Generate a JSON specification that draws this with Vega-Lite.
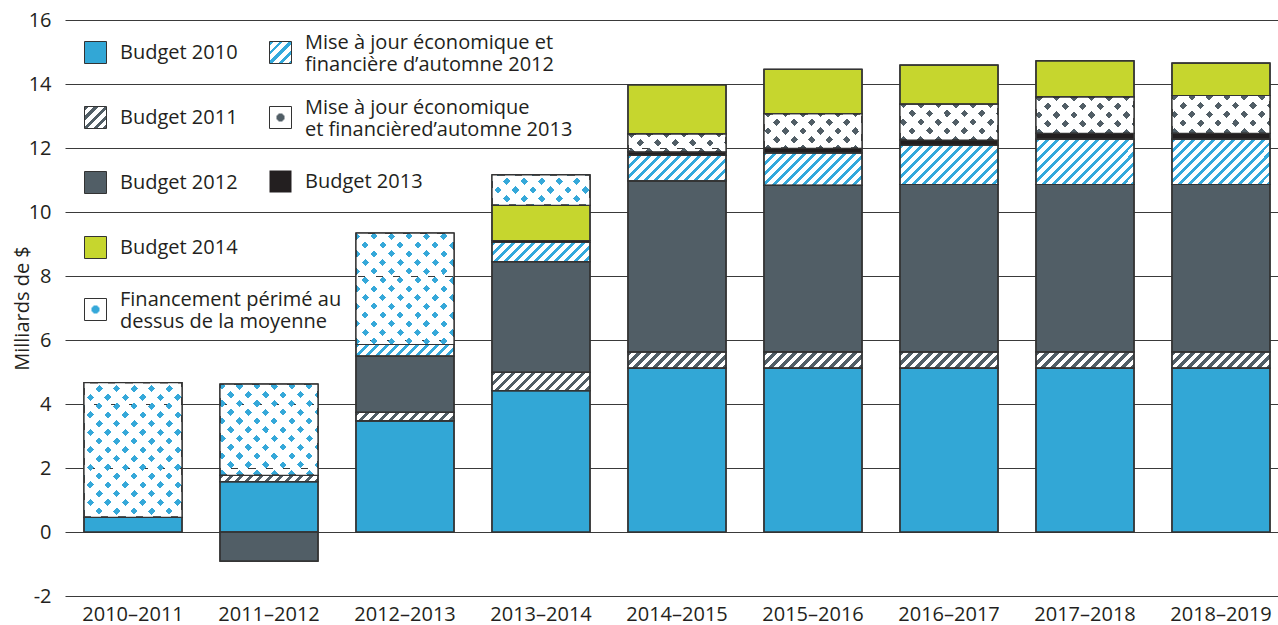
{
"$schema": "https://vega.github.io/schema/vega-lite/v6.json",
"width": 1224,
"height": 576,
"autosize": "none",
"padding": {"left": 65, "top": 20, "right": 0, "bottom": 29},
"background": "white",
"params": [
{"name": "hatchDark", "value": [
{"offset":0,"color":"#515e66"},{"offset":0.0375,"color":"#515e66"},{"offset":0.0375,"color":"#ffffff"},{"offset":0.0833,"color":"#ffffff"},
{"offset":0.0833,"color":"#515e66"},{"offset":0.1208,"color":"#515e66"},{"offset":0.1208,"color":"#ffffff"},{"offset":0.1667,"color":"#ffffff"},
{"offset":0.1667,"color":"#515e66"},{"offset":0.2042,"color":"#515e66"},{"offset":0.2042,"color":"#ffffff"},{"offset":0.25,"color":"#ffffff"},
{"offset":0.25,"color":"#515e66"},{"offset":0.2875,"color":"#515e66"},{"offset":0.2875,"color":"#ffffff"},{"offset":0.3333,"color":"#ffffff"},
{"offset":0.3333,"color":"#515e66"},{"offset":0.3708,"color":"#515e66"},{"offset":0.3708,"color":"#ffffff"},{"offset":0.4167,"color":"#ffffff"},
{"offset":0.4167,"color":"#515e66"},{"offset":0.4542,"color":"#515e66"},{"offset":0.4542,"color":"#ffffff"},{"offset":0.5,"color":"#ffffff"},
{"offset":0.5,"color":"#515e66"},{"offset":0.5375,"color":"#515e66"},{"offset":0.5375,"color":"#ffffff"},{"offset":0.5833,"color":"#ffffff"},
{"offset":0.5833,"color":"#515e66"},{"offset":0.6208,"color":"#515e66"},{"offset":0.6208,"color":"#ffffff"},{"offset":0.6667,"color":"#ffffff"},
{"offset":0.6667,"color":"#515e66"},{"offset":0.7042,"color":"#515e66"},{"offset":0.7042,"color":"#ffffff"},{"offset":0.75,"color":"#ffffff"},
{"offset":0.75,"color":"#515e66"},{"offset":0.7875,"color":"#515e66"},{"offset":0.7875,"color":"#ffffff"},{"offset":0.8333,"color":"#ffffff"},
{"offset":0.8333,"color":"#515e66"},{"offset":0.8708,"color":"#515e66"},{"offset":0.8708,"color":"#ffffff"},{"offset":0.9167,"color":"#ffffff"},
{"offset":0.9167,"color":"#515e66"},{"offset":0.9542,"color":"#515e66"},{"offset":0.9542,"color":"#ffffff"},{"offset":1,"color":"#ffffff"}
]},
{"name": "hatchBlue", "value": [
{"offset":0,"color":"#33a9dc"},{"offset":0.0267,"color":"#33a9dc"},{"offset":0.0267,"color":"#ffffff"},{"offset":0.0667,"color":"#ffffff"},
{"offset":0.0667,"color":"#33a9dc"},{"offset":0.0933,"color":"#33a9dc"},{"offset":0.0933,"color":"#ffffff"},{"offset":0.1333,"color":"#ffffff"},
{"offset":0.1333,"color":"#33a9dc"},{"offset":0.16,"color":"#33a9dc"},{"offset":0.16,"color":"#ffffff"},{"offset":0.2,"color":"#ffffff"},
{"offset":0.2,"color":"#33a9dc"},{"offset":0.2267,"color":"#33a9dc"},{"offset":0.2267,"color":"#ffffff"},{"offset":0.2667,"color":"#ffffff"},
{"offset":0.2667,"color":"#33a9dc"},{"offset":0.2933,"color":"#33a9dc"},{"offset":0.2933,"color":"#ffffff"},{"offset":0.3333,"color":"#ffffff"},
{"offset":0.3333,"color":"#33a9dc"},{"offset":0.36,"color":"#33a9dc"},{"offset":0.36,"color":"#ffffff"},{"offset":0.4,"color":"#ffffff"},
{"offset":0.4,"color":"#33a9dc"},{"offset":0.4267,"color":"#33a9dc"},{"offset":0.4267,"color":"#ffffff"},{"offset":0.4667,"color":"#ffffff"},
{"offset":0.4667,"color":"#33a9dc"},{"offset":0.4933,"color":"#33a9dc"},{"offset":0.4933,"color":"#ffffff"},{"offset":0.5333,"color":"#ffffff"},
{"offset":0.5333,"color":"#33a9dc"},{"offset":0.56,"color":"#33a9dc"},{"offset":0.56,"color":"#ffffff"},{"offset":0.6,"color":"#ffffff"},
{"offset":0.6,"color":"#33a9dc"},{"offset":0.6267,"color":"#33a9dc"},{"offset":0.6267,"color":"#ffffff"},{"offset":0.6667,"color":"#ffffff"},
{"offset":0.6667,"color":"#33a9dc"},{"offset":0.6933,"color":"#33a9dc"},{"offset":0.6933,"color":"#ffffff"},{"offset":0.7333,"color":"#ffffff"},
{"offset":0.7333,"color":"#33a9dc"},{"offset":0.76,"color":"#33a9dc"},{"offset":0.76,"color":"#ffffff"},{"offset":0.8,"color":"#ffffff"},
{"offset":0.8,"color":"#33a9dc"},{"offset":0.8267,"color":"#33a9dc"},{"offset":0.8267,"color":"#ffffff"},{"offset":0.8667,"color":"#ffffff"},
{"offset":0.8667,"color":"#33a9dc"},{"offset":0.8933,"color":"#33a9dc"},{"offset":0.8933,"color":"#ffffff"},{"offset":0.9333,"color":"#ffffff"},
{"offset":0.9333,"color":"#33a9dc"},{"offset":0.96,"color":"#33a9dc"},{"offset":0.96,"color":"#ffffff"},{"offset":1,"color":"#ffffff"}
]},
{"name": "dotsBlue", "value": [
{"offset":0,"color":"#35a8d9"},{"offset":0.03,"color":"#35a8d9"},{"offset":0.03,"color":"rgba(255,255,255,0)"},{"offset":0.0714,"color":"rgba(255,255,255,0)"},
{"offset":0.0714,"color":"#35a8d9"},{"offset":0.1014,"color":"#35a8d9"},{"offset":0.1014,"color":"rgba(255,255,255,0)"},{"offset":0.1429,"color":"rgba(255,255,255,0)"},
{"offset":0.1429,"color":"#35a8d9"},{"offset":0.1729,"color":"#35a8d9"},{"offset":0.1729,"color":"rgba(255,255,255,0)"},{"offset":0.2143,"color":"rgba(255,255,255,0)"},
{"offset":0.2143,"color":"#35a8d9"},{"offset":0.2443,"color":"#35a8d9"},{"offset":0.2443,"color":"rgba(255,255,255,0)"},{"offset":0.2857,"color":"rgba(255,255,255,0)"},
{"offset":0.2857,"color":"#35a8d9"},{"offset":0.3157,"color":"#35a8d9"},{"offset":0.3157,"color":"rgba(255,255,255,0)"},{"offset":0.3571,"color":"rgba(255,255,255,0)"},
{"offset":0.3571,"color":"#35a8d9"},{"offset":0.3871,"color":"#35a8d9"},{"offset":0.3871,"color":"rgba(255,255,255,0)"},{"offset":0.4286,"color":"rgba(255,255,255,0)"},
{"offset":0.4286,"color":"#35a8d9"},{"offset":0.4586,"color":"#35a8d9"},{"offset":0.4586,"color":"rgba(255,255,255,0)"},{"offset":0.5,"color":"rgba(255,255,255,0)"},
{"offset":0.5,"color":"#35a8d9"},{"offset":0.53,"color":"#35a8d9"},{"offset":0.53,"color":"rgba(255,255,255,0)"},{"offset":0.5714,"color":"rgba(255,255,255,0)"},
{"offset":0.5714,"color":"#35a8d9"},{"offset":0.6014,"color":"#35a8d9"},{"offset":0.6014,"color":"rgba(255,255,255,0)"},{"offset":0.6429,"color":"rgba(255,255,255,0)"},
{"offset":0.6429,"color":"#35a8d9"},{"offset":0.6729,"color":"#35a8d9"},{"offset":0.6729,"color":"rgba(255,255,255,0)"},{"offset":0.7143,"color":"rgba(255,255,255,0)"},
{"offset":0.7143,"color":"#35a8d9"},{"offset":0.7443,"color":"#35a8d9"},{"offset":0.7443,"color":"rgba(255,255,255,0)"},{"offset":0.7857,"color":"rgba(255,255,255,0)"},
{"offset":0.7857,"color":"#35a8d9"},{"offset":0.8157,"color":"#35a8d9"},{"offset":0.8157,"color":"rgba(255,255,255,0)"},{"offset":0.8571,"color":"rgba(255,255,255,0)"},
{"offset":0.8571,"color":"#35a8d9"},{"offset":0.8871,"color":"#35a8d9"},{"offset":0.8871,"color":"rgba(255,255,255,0)"},{"offset":0.9286,"color":"rgba(255,255,255,0)"},
{"offset":0.9286,"color":"#35a8d9"},{"offset":0.9586,"color":"#35a8d9"},{"offset":0.9586,"color":"rgba(255,255,255,0)"},{"offset":1,"color":"rgba(255,255,255,0)"}
]},
{"name": "dotsGrey", "value": [
{"offset":0,"color":"#515e66"},{"offset":0.03,"color":"#515e66"},{"offset":0.03,"color":"rgba(255,255,255,0)"},{"offset":0.0714,"color":"rgba(255,255,255,0)"},
{"offset":0.0714,"color":"#515e66"},{"offset":0.1014,"color":"#515e66"},{"offset":0.1014,"color":"rgba(255,255,255,0)"},{"offset":0.1429,"color":"rgba(255,255,255,0)"},
{"offset":0.1429,"color":"#515e66"},{"offset":0.1729,"color":"#515e66"},{"offset":0.1729,"color":"rgba(255,255,255,0)"},{"offset":0.2143,"color":"rgba(255,255,255,0)"},
{"offset":0.2143,"color":"#515e66"},{"offset":0.2443,"color":"#515e66"},{"offset":0.2443,"color":"rgba(255,255,255,0)"},{"offset":0.2857,"color":"rgba(255,255,255,0)"},
{"offset":0.2857,"color":"#515e66"},{"offset":0.3157,"color":"#515e66"},{"offset":0.3157,"color":"rgba(255,255,255,0)"},{"offset":0.3571,"color":"rgba(255,255,255,0)"},
{"offset":0.3571,"color":"#515e66"},{"offset":0.3871,"color":"#515e66"},{"offset":0.3871,"color":"rgba(255,255,255,0)"},{"offset":0.4286,"color":"rgba(255,255,255,0)"},
{"offset":0.4286,"color":"#515e66"},{"offset":0.4586,"color":"#515e66"},{"offset":0.4586,"color":"rgba(255,255,255,0)"},{"offset":0.5,"color":"rgba(255,255,255,0)"},
{"offset":0.5,"color":"#515e66"},{"offset":0.53,"color":"#515e66"},{"offset":0.53,"color":"rgba(255,255,255,0)"},{"offset":0.5714,"color":"rgba(255,255,255,0)"},
{"offset":0.5714,"color":"#515e66"},{"offset":0.6014,"color":"#515e66"},{"offset":0.6014,"color":"rgba(255,255,255,0)"},{"offset":0.6429,"color":"rgba(255,255,255,0)"},
{"offset":0.6429,"color":"#515e66"},{"offset":0.6729,"color":"#515e66"},{"offset":0.6729,"color":"rgba(255,255,255,0)"},{"offset":0.7143,"color":"rgba(255,255,255,0)"},
{"offset":0.7143,"color":"#515e66"},{"offset":0.7443,"color":"#515e66"},{"offset":0.7443,"color":"rgba(255,255,255,0)"},{"offset":0.7857,"color":"rgba(255,255,255,0)"},
{"offset":0.7857,"color":"#515e66"},{"offset":0.8157,"color":"#515e66"},{"offset":0.8157,"color":"rgba(255,255,255,0)"},{"offset":0.8571,"color":"rgba(255,255,255,0)"},
{"offset":0.8571,"color":"#515e66"},{"offset":0.8871,"color":"#515e66"},{"offset":0.8871,"color":"rgba(255,255,255,0)"},{"offset":0.9286,"color":"rgba(255,255,255,0)"},
{"offset":0.9286,"color":"#515e66"},{"offset":0.9586,"color":"#515e66"},{"offset":0.9586,"color":"rgba(255,255,255,0)"},{"offset":1,"color":"rgba(255,255,255,0)"}
]},
{"name": "maskStops", "value": [
{"offset":0,"color":"rgba(255,255,255,0)"},{"offset":0.03,"color":"rgba(255,255,255,0)"},{"offset":0.03,"color":"#ffffff"},{"offset":0.0714,"color":"#ffffff"},
{"offset":0.0714,"color":"rgba(255,255,255,0)"},{"offset":0.1014,"color":"rgba(255,255,255,0)"},{"offset":0.1014,"color":"#ffffff"},{"offset":0.1429,"color":"#ffffff"},
{"offset":0.1429,"color":"rgba(255,255,255,0)"},{"offset":0.1729,"color":"rgba(255,255,255,0)"},{"offset":0.1729,"color":"#ffffff"},{"offset":0.2143,"color":"#ffffff"},
{"offset":0.2143,"color":"rgba(255,255,255,0)"},{"offset":0.2443,"color":"rgba(255,255,255,0)"},{"offset":0.2443,"color":"#ffffff"},{"offset":0.2857,"color":"#ffffff"},
{"offset":0.2857,"color":"rgba(255,255,255,0)"},{"offset":0.3157,"color":"rgba(255,255,255,0)"},{"offset":0.3157,"color":"#ffffff"},{"offset":0.3571,"color":"#ffffff"},
{"offset":0.3571,"color":"rgba(255,255,255,0)"},{"offset":0.3871,"color":"rgba(255,255,255,0)"},{"offset":0.3871,"color":"#ffffff"},{"offset":0.4286,"color":"#ffffff"},
{"offset":0.4286,"color":"rgba(255,255,255,0)"},{"offset":0.4586,"color":"rgba(255,255,255,0)"},{"offset":0.4586,"color":"#ffffff"},{"offset":0.5,"color":"#ffffff"},
{"offset":0.5,"color":"rgba(255,255,255,0)"},{"offset":0.53,"color":"rgba(255,255,255,0)"},{"offset":0.53,"color":"#ffffff"},{"offset":0.5714,"color":"#ffffff"},
{"offset":0.5714,"color":"rgba(255,255,255,0)"},{"offset":0.6014,"color":"rgba(255,255,255,0)"},{"offset":0.6014,"color":"#ffffff"},{"offset":0.6429,"color":"#ffffff"},
{"offset":0.6429,"color":"rgba(255,255,255,0)"},{"offset":0.6729,"color":"rgba(255,255,255,0)"},{"offset":0.6729,"color":"#ffffff"},{"offset":0.7143,"color":"#ffffff"},
{"offset":0.7143,"color":"rgba(255,255,255,0)"},{"offset":0.7443,"color":"rgba(255,255,255,0)"},{"offset":0.7443,"color":"#ffffff"},{"offset":0.7857,"color":"#ffffff"},
{"offset":0.7857,"color":"rgba(255,255,255,0)"},{"offset":0.8157,"color":"rgba(255,255,255,0)"},{"offset":0.8157,"color":"#ffffff"},{"offset":0.8571,"color":"#ffffff"},
{"offset":0.8571,"color":"rgba(255,255,255,0)"},{"offset":0.8871,"color":"rgba(255,255,255,0)"},{"offset":0.8871,"color":"#ffffff"},{"offset":0.9286,"color":"#ffffff"},
{"offset":0.9286,"color":"rgba(255,255,255,0)"},{"offset":0.9586,"color":"rgba(255,255,255,0)"},{"offset":0.9586,"color":"#ffffff"},{"offset":1,"color":"#ffffff"}
]}
],
"datasets": {
"rangs": [
{"series": "Budget 2010", "rank": 1},
{"series": "Budget 2011", "rank": 2},
{"series": "Budget 2012", "rank": 3},
{"series": "Mise à jour économique et financière d’automne 2012", "rank": 4},
{"series": "Budget 2013", "rank": 5},
{"series": "Mise à jour économique et financière d’automne 2013", "rank": 6},
{"series": "Budget 2014", "rank": 7},
{"series": "Financement périmé au dessus de la moyenne", "rank": 8}
]
},
"data": {"values": [
{"year": "2010–2011", "series": "Budget 2010", "value": 0.46},
{"year": "2010–2011", "series": "Financement périmé au dessus de la moyenne", "value": 4.21},
{"year": "2011–2012", "series": "Budget 2010", "value": 1.57},
{"year": "2011–2012", "series": "Budget 2011", "value": 0.2},
{"year": "2011–2012", "series": "Budget 2012", "value": -0.91},
{"year": "2011–2012", "series": "Financement périmé au dessus de la moyenne", "value": 2.85},
{"year": "2012–2013", "series": "Budget 2010", "value": 3.47},
{"year": "2012–2013", "series": "Budget 2011", "value": 0.27},
{"year": "2012–2013", "series": "Budget 2012", "value": 1.76},
{"year": "2012–2013", "series": "Mise à jour économique et financière d’automne 2012", "value": 0.36},
{"year": "2012–2013", "series": "Financement périmé au dessus de la moyenne", "value": 3.48},
{"year": "2013–2014", "series": "Budget 2010", "value": 4.42},
{"year": "2013–2014", "series": "Budget 2011", "value": 0.57},
{"year": "2013–2014", "series": "Budget 2012", "value": 3.46},
{"year": "2013–2014", "series": "Mise à jour économique et financière d’automne 2012", "value": 0.6},
{"year": "2013–2014", "series": "Budget 2013", "value": 0.06},
{"year": "2013–2014", "series": "Budget 2014", "value": 1.1},
{"year": "2013–2014", "series": "Financement périmé au dessus de la moyenne", "value": 0.95},
{"year": "2014–2015", "series": "Budget 2010", "value": 5.12},
{"year": "2014–2015", "series": "Budget 2011", "value": 0.51},
{"year": "2014–2015", "series": "Budget 2012", "value": 5.34},
{"year": "2014–2015", "series": "Mise à jour économique et financière d’automne 2012", "value": 0.8},
{"year": "2014–2015", "series": "Budget 2013", "value": 0.11},
{"year": "2014–2015", "series": "Mise à jour économique et financière d’automne 2013", "value": 0.56},
{"year": "2014–2015", "series": "Budget 2014", "value": 1.53},
{"year": "2015–2016", "series": "Budget 2010", "value": 5.12},
{"year": "2015–2016", "series": "Budget 2011", "value": 0.51},
{"year": "2015–2016", "series": "Budget 2012", "value": 5.2},
{"year": "2015–2016", "series": "Mise à jour économique et financière d’automne 2012", "value": 1.02},
{"year": "2015–2016", "series": "Budget 2013", "value": 0.14},
{"year": "2015–2016", "series": "Mise à jour économique et financière d’automne 2013", "value": 1.08},
{"year": "2015–2016", "series": "Budget 2014", "value": 1.39},
{"year": "2016–2017", "series": "Budget 2010", "value": 5.12},
{"year": "2016–2017", "series": "Budget 2011", "value": 0.51},
{"year": "2016–2017", "series": "Budget 2012", "value": 5.23},
{"year": "2016–2017", "series": "Mise à jour économique et financière d’automne 2012", "value": 1.22},
{"year": "2016–2017", "series": "Budget 2013", "value": 0.17},
{"year": "2016–2017", "series": "Mise à jour économique et financière d’automne 2013", "value": 1.12},
{"year": "2016–2017", "series": "Budget 2014", "value": 1.22},
{"year": "2017–2018", "series": "Budget 2010", "value": 5.12},
{"year": "2017–2018", "series": "Budget 2011", "value": 0.51},
{"year": "2017–2018", "series": "Budget 2012", "value": 5.23},
{"year": "2017–2018", "series": "Mise à jour économique et financière d’automne 2012", "value": 1.42},
{"year": "2017–2018", "series": "Budget 2013", "value": 0.18},
{"year": "2017–2018", "series": "Mise à jour économique et financière d’automne 2013", "value": 1.14},
{"year": "2017–2018", "series": "Budget 2014", "value": 1.12},
{"year": "2018–2019", "series": "Budget 2010", "value": 5.12},
{"year": "2018–2019", "series": "Budget 2011", "value": 0.51},
{"year": "2018–2019", "series": "Budget 2012", "value": 5.23},
{"year": "2018–2019", "series": "Mise à jour économique et financière d’automne 2012", "value": 1.42},
{"year": "2018–2019", "series": "Budget 2013", "value": 0.18},
{"year": "2018–2019", "series": "Mise à jour économique et financière d’automne 2013", "value": 1.18},
{"year": "2018–2019", "series": "Budget 2014", "value": 1.01}
]},
"transform": [
{"lookup": "series", "from": {"data": {"name": "rangs"}, "key": "series", "fields": ["rank"]}}
],
"encoding": {
"x": {"field": "year", "type": "nominal", "scale": {"paddingInner": 0.28, "paddingOuter": 0.14},
 "axis": {"orient": "bottom", "title": null, "domain": false, "ticks": false, "grid": false, "labelAngle": 0, "labelPadding": 8, "labelFont": "Open Sans", "labelFontSize": 20, "labelColor": "#231f20"}},
"y": {"field": "value", "type": "quantitative", "stack": "zero", "scale": {"domain": [-2, 16], "nice": false, "zero": false},
 "axis": {"values": [-2, 0, 2, 4, 6, 8, 10, 12, 14, 16], "grid": true, "gridColor": "#3a3a3a", "gridWidth": 1, "domain": false, "ticks": false, "labelPadding": 14, "labelFont": "Open Sans", "labelFontSize": 20, "labelColor": "#231f20", "labelExpr": "'' + datum.value", "title": "Milliards de $", "titleFont": "Open Sans", "titleFontSize": 20, "titleFontWeight": "normal", "titleColor": "#231f20", "titlePadding": -4}},
"order": {"field": "rank", "type": "quantitative"}
},
"layer": [
{
"mark": {"type": "bar", "strokeWidth": 1.2,
 "fill": {"expr": "isString(datum.value) ? {gradient: 'radial', x1: 0.5, y1: 0.5, r1: 0, x2: 0.5, y2: 0.5, r2: 0.5, stops: [{offset: 0, color: '#35a8d9'}, {offset: 0.36, color: '#35a8d9'}, {offset: 0.36, color: '#ffffff'}, {offset: 1, color: '#ffffff'}]} : 'transparent'"}},
"encoding": {
"stroke": {
"field": "series", "type": "nominal",
"scale": {"domain": ["Financement périmé au dessus de la moyenne", "Budget 2014", "Budget 2013", "Budget 2012", "Budget 2011", "Budget 2010", "Mise à jour économique et financière d’automne 2012", "Mise à jour économique et financière d’automne 2013"],
 "range": ["#333333", "#333333", "#333333", "#333333", "#333333", "#333333", "#333333", "#333333"]},
"legend": {
 "title": null, "orient": "none", "legendX": 19, "legendY": 278, "direction": "vertical", "columns": 1,
 "values": ["Financement périmé au dessus de la moyenne"],
 "padding": 0, "labelOffset": 13, "labelLimit": 600, "labelBaseline": "bottom",
 "symbolType": "square", "symbolSize": 484, "symbolStrokeWidth": 1, "symbolOpacity": 1,
 "labelFont": "Open Sans", "labelFontSize": 20, "labelColor": "#231f20",
 "labelExpr": "['Financement périmé au', 'dessus de la moyenne']"
}
}
}
},
{
"mark": {"type": "bar", "strokeWidth": 1.2,
 "fill": {"expr": "(datum.series || datum.value) === 'Budget 2010' ? '#32a7d6' : (datum.series || datum.value) === 'Budget 2012' ? '#515e66' : (datum.series || datum.value) === 'Budget 2013' ? '#231f20' : (datum.series || datum.value) === 'Budget 2014' ? '#c6d62e' : (datum.series || datum.value) === 'Budget 2011' ? (isString(datum.value) ? {gradient: 'linear', x1: 0, y1: 0, x2: 2.7273, y2: 2.7273, stops: hatchDark} : {gradient: 'linear', x1: 0, y1: 0, x2: 11760 / (9604 + 1024 * datum.value * datum.value), y2: 3840 * datum.value / (9604 + 1024 * datum.value * datum.value), stops: hatchDark}) : (datum.series || datum.value) === 'Mise à jour économique et financière d’automne 2012' ? (isString(datum.value) ? {gradient: 'linear', x1: 0, y1: 0, x2: 3.4091, y2: 3.4091, stops: hatchBlue} : {gradient: 'linear', x1: 0, y1: 0, x2: 14700 / (9604 + 1024 * datum.value * datum.value), y2: 4800 * datum.value / (9604 + 1024 * datum.value * datum.value), stops: hatchBlue}) : (datum.series || datum.value) === 'Mise à jour économique et financière d’automne 2013' ? (isString(datum.value) ? {gradient: 'radial', x1: 0.5, y1: 0.5, r1: 0, x2: 0.5, y2: 0.5, r2: 0.5, stops: [{offset: 0, color: '#515e66'}, {offset: 0.36, color: '#515e66'}, {offset: 0.36, color: '#ffffff'}, {offset: 1, color: '#ffffff'}]} : {gradient: 'linear', x1: 0, y1: 0, x2: 24010 / (9604 + 1024 * datum.value * datum.value), y2: 7840 * datum.value / (9604 + 1024 * datum.value * datum.value), stops: dotsGrey}) : (datum.series || datum.value) === 'Financement périmé au dessus de la moyenne' ? (isString(datum.value) ? {gradient: 'radial', x1: 0.5, y1: 0.5, r1: 0, x2: 0.5, y2: 0.5, r2: 0.5, stops: [{offset: 0, color: '#35a8d9'}, {offset: 0.36, color: '#35a8d9'}, {offset: 0.36, color: '#ffffff'}, {offset: 1, color: '#ffffff'}]} : {gradient: 'linear', x1: 0, y1: 0, x2: 24010 / (9604 + 1024 * datum.value * datum.value), y2: 7840 * datum.value / (9604 + 1024 * datum.value * datum.value), stops: dotsBlue}) : 'transparent'"}},
"encoding": {
"stroke": {
"field": "series", "type": "nominal",
"scale": {"domain": ["Budget 2010", "Budget 2011", "Budget 2012", "Budget 2014", "Financement périmé au dessus de la moyenne", "Mise à jour économique et financière d’automne 2012", "Budget 2013", "Mise à jour économique et financière d’automne 2013"],
 "range": ["#333333", "#333333", "#333333", "#333333", "#333333", "#333333", "#333333", "#333333"]},
"legend": {
 "title": null, "orient": "none", "legendX": 19, "legendY": 21, "direction": "vertical", "columns": 1,
 "values": ["Budget 2010", "Budget 2011", "Budget 2012", "Budget 2014"],
 "padding": 0, "rowPadding": 38, "labelOffset": 13, "labelLimit": 600,
 "symbolType": "square", "symbolSize": 484, "symbolStrokeWidth": 1, "symbolOpacity": 1,
 "labelFont": "Open Sans", "labelFontSize": 20, "labelColor": "#231f20"
}
}
}
},
{
"mark": {"type": "bar", "strokeWidth": 1.2,
 "fill": {"expr": "isString(datum.value) ? ((datum.series || datum.value) === 'Mise à jour économique et financière d’automne 2012' ? {gradient: 'linear', x1: 0, y1: 0, x2: 3.4091, y2: 3.4091, stops: hatchBlue} : (datum.series || datum.value) === 'Mise à jour économique et financière d’automne 2013' ? {gradient: 'radial', x1: 0.5, y1: 0.5, r1: 0, x2: 0.5, y2: 0.5, r2: 0.5, stops: [{offset: 0, color: '#515e66'}, {offset: 0.36, color: '#515e66'}, {offset: 0.36, color: '#ffffff'}, {offset: 1, color: '#ffffff'}]} : (datum.series || datum.value) === 'Budget 2013' ? '#231f20' : 'transparent') : ((datum.series === 'Mise à jour économique et financière d’automne 2013' || datum.series === 'Financement périmé au dessus de la moyenne') ? {gradient: 'linear', x1: 0, y1: 1, x2: 24010 / (9604 + 1024 * datum.value * datum.value), y2: 1 - 7840 * datum.value / (9604 + 1024 * datum.value * datum.value), stops: maskStops} : 'transparent')"}},
"encoding": {
"stroke": {
"field": "series", "type": "nominal",
"scale": {"domain": ["Mise à jour économique et financière d’automne 2012", "Mise à jour économique et financière d’automne 2013", "Budget 2013", "Budget 2010", "Budget 2011", "Budget 2012", "Budget 2014", "Financement périmé au dessus de la moyenne"],
 "range": ["#333333", "#333333", "#333333", "#333333", "#333333", "#333333", "#333333", "#333333"]},
"legend": {
 "title": null, "orient": "none", "legendX": 204, "legendY": 21, "direction": "vertical", "columns": 1,
 "values": ["Mise à jour économique et financière d’automne 2012", "Mise à jour économique et financière d’automne 2013"],
 "padding": 0, "rowPadding": 22, "labelOffset": 13, "labelLimit": 600, "labelBaseline": "bottom",
 "symbolType": "square", "symbolSize": 484, "symbolStrokeWidth": 1, "symbolOpacity": 1,
 "labelFont": "Open Sans", "labelFontSize": 20, "labelColor": "#231f20",
 "labelExpr": "datum.value === 'Mise à jour économique et financière d’automne 2012' ? ['Mise à jour économique et', 'financière d’automne 2012'] : ['Mise à jour économique', 'et financièred’automne 2013']"
}
},
"strokeDash": {
"field": "series", "type": "nominal",
"scale": {"domain": ["Budget 2013", "Mise à jour économique et financière d’automne 2012", "Mise à jour économique et financière d’automne 2013", "Budget 2010", "Budget 2011", "Budget 2012", "Budget 2014", "Financement périmé au dessus de la moyenne"],
 "range": [[1, 0], [1, 0], [1, 0], [1, 0], [1, 0], [1, 0], [1, 0], [1, 0]]},
"legend": {
 "title": null, "orient": "none", "legendX": 204, "legendY": 150, "direction": "vertical", "columns": 1,
 "values": ["Budget 2013"],
 "padding": 0, "labelOffset": 13, "labelLimit": 600,
 "symbolType": "square", "symbolSize": 484, "symbolStrokeWidth": 1, "symbolStrokeColor": "#333333", "symbolOpacity": 1,
 "labelFont": "Open Sans", "labelFontSize": 20, "labelColor": "#231f20"
}
}
}
}
],
"resolve": {"scale": {"stroke": "independent", "strokeDash": "independent"}, "legend": {"stroke": "independent", "strokeDash": "independent"}},
"config": {"view": {"stroke": null}, "font": "Open Sans"}
}
